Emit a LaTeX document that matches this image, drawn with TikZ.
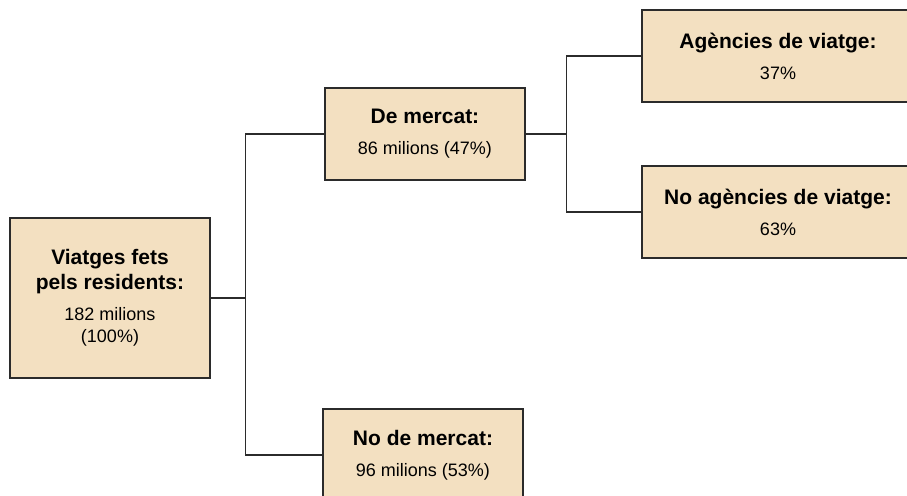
\documentclass[tikz,border=0pt]{standalone}
\usepackage{fontspec}
\setmainfont{Liberation Sans}
\usepackage{tikz}

\definecolor{boxfill}{HTML}{F3E0C1}
\definecolor{boxline}{HTML}{2B2B2B}
\newcommand{\hd}[1]{{\fontsize{21}{25}\selectfont\bfseries #1}}

\tikzset{
	box/.style={draw=boxline, line width=1.6pt, fill=boxfill, minimum width=200, minimum height=92,
		inner sep=0pt, align=center, font=\fontsize{18}{22}\selectfont},
	conn/.style={draw=boxline, line width=1.3pt}
}

\begin{document}
\begin{tikzpicture}[x=1pt, y=-1pt]
		
		\clip (0,0) rectangle (907,495);
		
		% Arrel
		\node[box, minimum height=160] (root) at (110,298) {\hd{Viatges fets}\\[3pt]\hd{pels residents:}\\[9pt]182 milions\\(100\%)};
		
		% Segon nivell
		\node[box] (mercat) at (425,134) {\hd{De mercat:}\\[9pt]86 milions (47\%)};
		\node[box] (nomercat) at (423,455) {\hd{No de mercat:}\\[9pt]96 milions (53\%)};
		
		% Tercer nivell
		\node[box, minimum width=272] (agencies) at (778,56) {\hd{Agències de viatge:}\\[9pt]37\%};
		\node[box, minimum width=272] (noagencies) at (778,212) {\hd{No agències de viatge:}\\[9pt]63\%};
		
		% Connectors
		\draw[conn] (root.east) -- ++(35,0) |- (mercat.west);
		\draw[conn] (root.east) -- ++(35,0) |- (nomercat.west);
		\draw[conn] (mercat.east) -- ++(41,0) |- (agencies.west);
		\draw[conn] (mercat.east) -- ++(41,0) |- (noagencies.west);
		
	\end{tikzpicture}
\end{document}
